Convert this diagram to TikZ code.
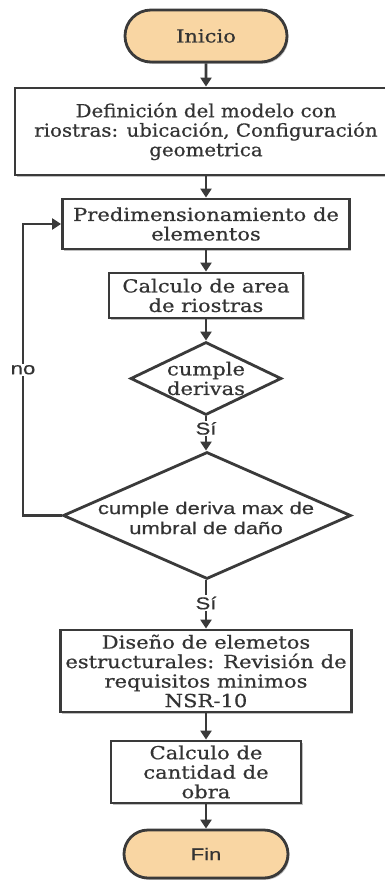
\documentclass[tikz,border=0pt]{standalone}
\usepackage{fontspec}
\usetikzlibrary{shapes.geometric,shapes.misc,arrows.meta,shadows}
\newfontfamily\slabfont[FakeStretch=1.17,FakeBold=0.6]{DejaVu Serif}
\newfontfamily\slabnarrow[FakeStretch=1.1,FakeBold=0.6]{DejaVu Serif}
\newfontfamily\arialfont[FakeStretch=1.3,FakeBold=0.4]{Liberation Sans}
\definecolor{linec}{HTML}{3A3A3A}
\definecolor{textc}{HTML}{333333}
\definecolor{termfill}{HTML}{F9D6A3}
\tikzset{
  base/.style={draw=linec, line width=2.8pt, align=center, inner sep=0pt, text=textc},
  shad/.style={drop shadow={shadow xshift=1.5pt, shadow yshift=-1.8pt, opacity=0.25, fill=black}},
  slab/.style={font=\slabfont\fontsize{18}{19.5}\selectfont},
  sans/.style={font=\arialfont\fontsize{17}{20}\selectfont},
  procbox/.style={base, rectangle, fill=white, slab, shad},
  term/.style={base, rounded rectangle, fill=termfill, shad},
  dia/.style={base, diamond, fill=white, aspect=2},
  plain/.style={align=center, inner sep=0pt, text=textc},
  lab/.style={sans, fill=white, inner sep=1.5pt, text=textc},
  arr/.style={draw=linec, line width=2.8pt, -{Triangle[width=11pt,length=9pt]}},
}
\begin{document}
\begin{tikzpicture}[x=1pt,y=-1pt]
\useasboundingbox (0,0) rectangle (385,880);
\node[term, slab, minimum width=162pt, minimum height=52pt] (ini) at (206,36) {Inicio};
\node[procbox, font=\slabnarrow\fontsize{18}{19.5}\selectfont, minimum width=382pt, minimum height=87pt] (def) at (206,131.5) {Definición del modelo con\\riostras: ubicación, Configuración\\geometrica};
\node[procbox, minimum width=287pt, minimum height=50pt] (pre) at (206,224) {Predimensionamiento de\\elementos};
\node[procbox, minimum width=194pt, minimum height=45pt] (cal) at (206,295.5) {Calculo de area\\de riostras};
\node[dia, minimum width=151pt, minimum height=73pt] (d1) at (206,378.5) {};
\node[plain, slab] (d1t) at (d1) {cumple\\derivas};
\node[dia, minimum width=288pt, minimum height=127pt] (d2) at (207,515.5) {};
\node[plain, sans] (d2t) at (206,518) {cumple deriva max de\\umbral de daño};
\node[procbox, minimum width=291pt, minimum height=82pt] (dis) at (206,671) {Diseño de elemetos\\estructurales: Revisión de\\requisitos minimos\\NSR-10};
\node[procbox, minimum width=190pt, minimum height=62pt] (can) at (206,772) {Calculo de\\cantidad de\\obra};
\node[term, sans, minimum width=164pt, minimum height=48pt] (fin) at (206,854) {Fin};
\coordinate (lp) at (23,515.5);
\draw[arr] (ini) -- (def);
\draw[arr] (def) -- (pre);
\draw[arr] (pre) -- (cal);
\draw[arr] (cal) -- (d1);
\draw[arr] (d1.south) -- node[lab, pos=0.35]{Sí} (d1.south |- d2.north);
\draw[arr] (d1.south |- d2.south) -- node[lab, pos=0.47]{Sí} (d1.south |- dis.north);
\draw[arr] (dis) -- (can);
\draw[arr] (can) -- (fin);
\draw[arr] (d2.west) -- (lp) -- node[lab]{no} (lp |- pre.west) -- (pre.west);
\end{tikzpicture}
\end{document}
